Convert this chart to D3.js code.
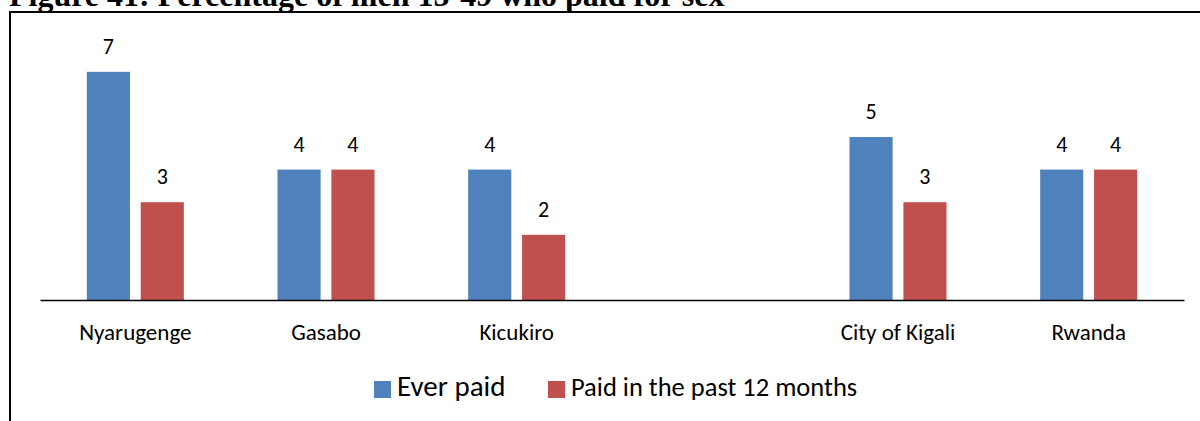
<!DOCTYPE html>
<html>
<head>
<meta charset="utf-8">
<script src="https://cdn.jsdelivr.net/npm/d3@7"></script>
<style>
  html, body { margin: 0; padding: 0; background: #fff; }
  svg { display: block; }
</style>
</head>
<body>
<svg id="chart" width="1200" height="421"></svg>
<script>
// Districts of Kigali, a spacer slot, then the city and national totals
const categories = ["Nyarugenge", "Gasabo", "Kicukiro", "", "City of Kigali", "Rwanda"];
const everPaid = [7, 4, 4, null, 5, 4];
const paidPast12 = [3, 4, 2, null, 3, 4];
const seriesNames = ["Ever paid", "Paid in the past 12 months"];
const seriesColors = ["#4F81BD", "#C0504D"];
const titleText = "Figure 41: Percentage of men 15-49 who paid for sex";

const svg = d3.select("#chart");
const labelFont = "Carlito, Calibri, Lato, sans-serif";

// Figure title (partly above the top edge) and the frame around the chart
svg.append("text")
  .attr("x", 9).attr("y", 6)
  .attr("font-family", "'Liberation Serif', 'Times New Roman', serif")
  .attr("font-weight", "bold")
  .attr("font-size", 32)
  .attr("fill", "#000")
  .text(titleText);

svg.append("rect")
  .attr("x", 10).attr("y", 12)
  .attr("width", 1300).attr("height", 600)
  .attr("fill", "none")
  .attr("stroke", "#000")
  .attr("stroke-width", 2);

const plot = { left: 40, right: 1184, top: 39, bottom: 300 };

const x0 = d3.scaleBand()
  .domain(categories.map((c, i) => i))
  .range([plot.left, plot.right])
  .paddingInner(0).paddingOuter(0);

const groupWidth = 97;
const x1 = d3.scaleBand()
  .domain([0, 1])
  .range([0, groupWidth])
  .paddingInner(0.2);

const y = d3.scaleLinear()
  .domain([0, 8])
  .range([plot.bottom, plot.bottom - 8 * 32.6]);

const rows = categories.map((c, i) => ({ cat: c, i, vals: [everPaid[i], paidPast12[i]] }));

const groups = svg.append("g").selectAll("g")
  .data(rows.filter(d => d.vals[0] != null))
  .join("g")
  .attr("transform", d => `translate(${x0(d.i) + (x0.bandwidth() - groupWidth) / 2},0)`);

groups.selectAll("rect")
  .data(d => d.vals.map((v, k) => ({ v, k })))
  .join("rect")
  .attr("x", d => x1(d.k))
  .attr("width", x1.bandwidth())
  .attr("y", d => y(d.v))
  .attr("height", d => y(0) - y(d.v))
  .attr("fill", d => seriesColors[d.k]);

groups.selectAll("text")
  .data(d => d.vals.map((v, k) => ({ v, k })))
  .join("text")
  .attr("x", d => x1(d.k) + x1.bandwidth() / 2)
  .attr("y", d => y(d.v) - 18)
  .attr("text-anchor", "middle")
  .attr("font-family", labelFont)
  .attr("font-size", 22)
  .attr("fill", "#000")
  .text(d => d.v);

// Category axis along the zero line
const xAxis = d3.axisBottom(x0)
  .tickSize(0)
  .tickPadding(40)
  .tickFormat(i => categories[i]);

const axisG = svg.append("g")
  .attr("transform", `translate(0,${plot.bottom})`)
  .call(xAxis);
axisG.select(".domain").attr("stroke", "#000").attr("stroke-width", 1.5);
axisG.selectAll(".tick text")
  .attr("dy", null)
  .attr("font-family", labelFont)
  .attr("font-size", 23)
  .attr("fill", "#000");

// Legend
const legend = svg.append("g");
const legendItems = [
  { name: seriesNames[0], color: seriesColors[0], x: 374, size: 29 },
  { name: seriesNames[1], color: seriesColors[1], x: 548, size: 26.5 }
];
legendItems.forEach(it => {
  legend.append("rect")
    .attr("x", it.x).attr("y", 381)
    .attr("width", 17).attr("height", 17)
    .attr("fill", it.color);
  legend.append("text")
    .attr("x", it.x + 23).attr("y", 396)
    .attr("font-family", labelFont)
    .attr("font-size", it.size)
    .attr("fill", "#000")
    .text(it.name);
});
</script>
</body>
</html>
